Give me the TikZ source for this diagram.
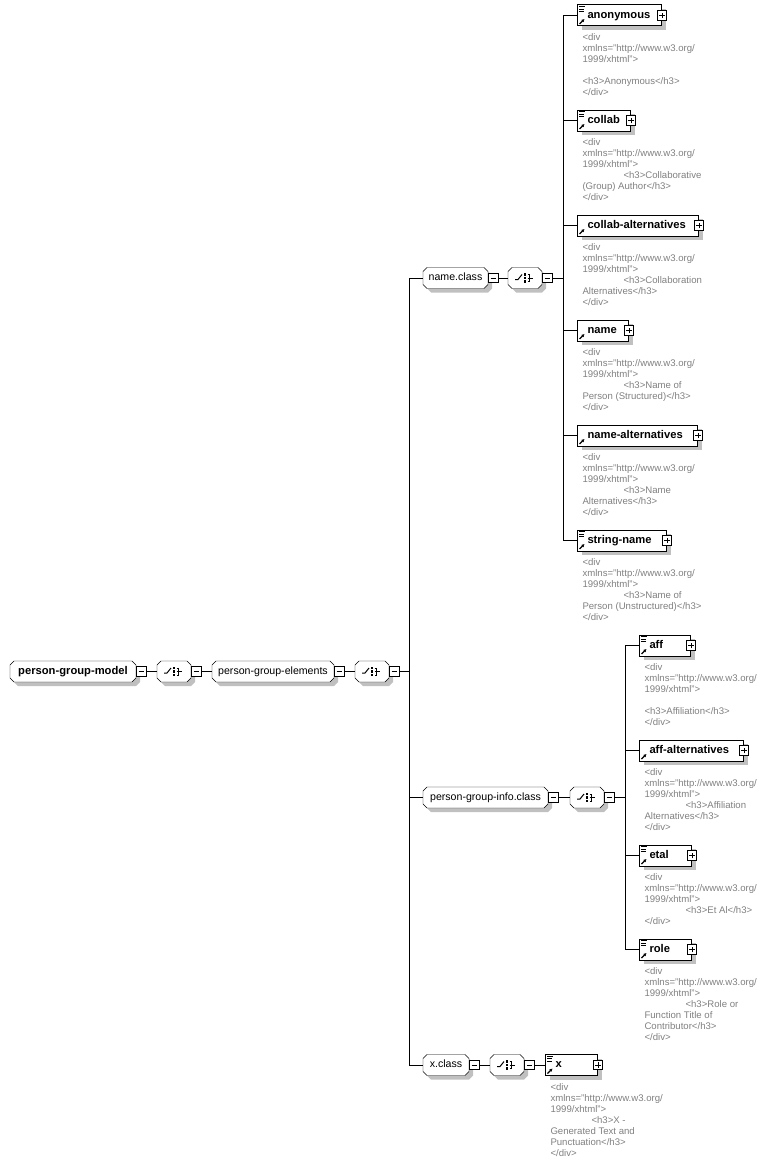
\documentclass[tikz,border=0pt]{standalone}
\usepackage{fontspec}
\setmainfont{Liberation Sans}
\usetikzlibrary{shadows,arrows.meta,backgrounds}

\definecolor{docgray}{RGB}{128,128,128}
\definecolor{shadegray}{RGB}{192,192,192}

\newcommand\lblfont{\fontsize{10.6}{12}\selectfont}
\newcommand\elemfont{\fontsize{11.2}{13}\selectfont\bfseries}
\newcommand\docfont{\fontsize{9.6}{11}\selectfont}
\newcommand\xdiv{<div\\xmlns="http://www.w3.org/\\1999/xhtml">}
\newcommand\hthree{\hspace*{41pt}}

\tikzset{
  sombra/.style={drop shadow={shadow xshift=4pt,shadow yshift=-4pt,fill=shadegray,opacity=1}},
  elem/.style={draw,fill=white,anchor=west,minimum height=21pt,inner xsep=10pt,inner ysep=0pt,
    font=\elemfont,text height=8pt,text depth=2.5pt,sombra},
  grp/.style={rectangle,anchor=west,minimum height=20pt,inner sep=0pt,
    font=\lblfont,text height=8pt,text depth=2.5pt},
  seqbox/.style={grp,minimum width=33pt},
  chamf/.style={fill=white,sombra},
  mbox/.style={draw,fill=white,line width=1.2pt,minimum size=9.5pt,inner sep=0pt,anchor=west,
    path picture={\draw[line width=1pt] ([xshift=2pt]path picture bounding box.west)
      -- ([xshift=-2pt]path picture bounding box.east);}},
  pbox/.style={mbox,anchor=center,path picture={
    \draw[line width=1pt] ([xshift=2pt]path picture bounding box.west)
      -- ([xshift=-2pt]path picture bounding box.east)
      ([yshift=2pt]path picture bounding box.south) -- ([yshift=-2pt]path picture bounding box.north);}},
  doc/.style={text=docgray,font=\docfont,align=left,anchor=north west,inner sep=0pt},
}

\begin{document}
\begin{tikzpicture}[x=1pt,y=-1pt,line width=1pt]
    \useasboundingbox (0,0) rectangle (772,1164);

    %Raiz
    \node[grp,font=\elemfont,minimum width=125pt] (pgm) at (10,671.5) {person-group-model};
    \node[mbox] (pgmm) at (pgm.east) {};
    \node[seqbox] (seqa) at (157,671.5) {};
    \node[mbox] (seqam) at (seqa.east) {};
    \node[grp,minimum width=121pt] (pge) at (212,671.5) {person-group-elements};
    \node[mbox] (pgem) at (pge.east) {};
    \node[seqbox] (seqb) at (355,671.5) {};
    \node[mbox] (seqbm) at (seqb.east) {};
    \coordinate (forka) at (409,671.5);

    %Grupos
    \node[grp,minimum width=64pt] (ncls) at (423,278) {name.class};
    \node[mbox] (nclsm) at (ncls.east) {};
    \node[seqbox] (seqc) at (508,278) {};
    \node[mbox] (seqcm) at (seqc.east) {};
    \coordinate (forkb) at (563,278);

    \node[grp,minimum width=124pt] (pgic) at (423,797.5) {person-group-info.class};
    \node[mbox] (pgicm) at (pgic.east) {};
    \node[seqbox] (seqd) at (570,797.5) {};
    \node[mbox] (seqdm) at (seqd.east) {};
    \coordinate (forkc) at (625,797.5);

    \node[grp,minimum width=45pt] (xcls) at (423,1065) {x.class};
    \node[mbox] (xclsm) at (xcls.east) {};
    \node[seqbox] (seqe) at (490,1065) {};
    \node[mbox] (seqem) at (seqe.east) {};

    %Contornos
    \begin{scope}[on background layer]
    \foreach \g in {pgm,seqa,pge,seqb,ncls,seqc,pgic,seqd,xcls,seqe}{
        \draw[chamf] ([xshift=4pt]\g.north west) -- ([xshift=-4pt]\g.north east)
            -- ([yshift=-4pt]\g.north east) -- ([yshift=4pt]\g.south east)
            -- ([xshift=-4pt]\g.south east) -- ([xshift=4pt]\g.south west)
            -- ([yshift=4pt]\g.south west) -- ([yshift=-4pt]\g.north west) -- cycle;
    }
    \end{scope}

    %Secuencias
    \foreach \s in {seqa,seqb,seqc,seqd,seqe}{
        \draw ([shift={(-10pt,-1.5pt)}]\s.center) -- ++(3pt,0pt) -- ++(4pt,5pt);
        \foreach \dd in {3.5,0,-3.5}{
            \fill ([shift={(-1.2pt,\dd pt-1.2pt)}]\s.center) rectangle ++(2.4pt,2.4pt);
        }
        \draw ([shift={(2.5pt,3.5pt)}]\s.center) -- ++(2pt,0pt) -- ++(0pt,-7pt) -- ++(-2pt,0pt)
            ([shift={(2.5pt,0pt)}]\s.center) -- ++(5pt,0pt);
    }

    %Elementos
    \foreach \nm/\xx/\yy/\ww/\doc [evaluate={\tw=\ww-20;}] in {
        anonymous/577/15.5/84/1, collab/577/120.5/53/1, collab-alternatives/577/225.5/121/0,
        name/577/330.5/51/0, name-alternatives/577/435.5/120/0, string-name/577/540.5/89/1,
        aff/639/645.5/51/1, aff-alternatives/639/750.5/104/0, etal/639/855.5/52/1,
        role/639/949.5/52/1, x/545/1065/52/1}{
        \node[elem] (\nm) at (\xx,\yy) {\makebox[\tw pt][l]{\nm}};
        \node[pbox] (\nm-p) at (\nm.east) {};
        \ifnum\doc=1
            \draw[line width=0.9pt] ([xshift=2pt,yshift=-2pt]\nm.north west) -- ++(6pt,0pt)
                ([xshift=2pt,yshift=-4.5pt]\nm.north west) -- ++(5pt,0pt)
                ([xshift=2pt,yshift=-7pt]\nm.north west) -- ++(5pt,0pt);
        \fi
        \draw[line width=1.2pt,-{Latex[length=3pt,width=3.5pt]}] ([xshift=2.5pt,yshift=2.5pt]\nm.south west) -- ++(5pt,5pt);
    }

    %Documentacion
    \node[doc] (anonymous-doc) at ([xshift=5pt,yshift=-7pt]anonymous.south west) {\xdiv\\[11pt]<h3>Anonymous</h3>\\</div>};
    \node[doc] (collab-doc) at ([xshift=5pt,yshift=-7pt]collab.south west) {\xdiv\\\hthree<h3>Collaborative\\(Group) Author</h3>\\</div>};
    \node[doc] (collab-alternatives-doc) at ([xshift=5pt,yshift=-7pt]collab-alternatives.south west) {\xdiv\\\hthree<h3>Collaboration\\Alternatives</h3>\\</div>};
    \node[doc] (name-doc) at ([xshift=5pt,yshift=-7pt]name.south west) {\xdiv\\\hthree<h3>Name of\\Person (Structured)</h3>\\</div>};
    \node[doc] (name-alternatives-doc) at ([xshift=5pt,yshift=-7pt]name-alternatives.south west) {\xdiv\\\hthree<h3>Name\\Alternatives</h3>\\</div>};
    \node[doc] (string-name-doc) at ([xshift=5pt,yshift=-7pt]string-name.south west) {\xdiv\\\hthree<h3>Name of\\Person (Unstructured)</h3>\\</div>};
    \node[doc] (aff-doc) at ([xshift=5pt,yshift=-7pt]aff.south west) {\xdiv\\[11pt]<h3>Affiliation</h3>\\</div>};
    \node[doc] (aff-alternatives-doc) at ([xshift=5pt,yshift=-7pt]aff-alternatives.south west) {\xdiv\\\hthree<h3>Affiliation\\Alternatives</h3>\\</div>};
    \node[doc] (etal-doc) at ([xshift=5pt,yshift=-7pt]etal.south west) {\xdiv\\\hthree<h3>Et Al</h3>\\</div>};
    \node[doc] (role-doc) at ([xshift=5pt,yshift=-7pt]role.south west) {\xdiv\\\hthree<h3>Role or\\Function Title of\\Contributor</h3>\\</div>};
    \node[doc] (x-doc) at ([xshift=5pt,yshift=-7pt]x.south west) {\xdiv\\\hthree<h3>X -\\Generated Text and\\Punctuation</h3>\\</div>};

    %Conectores
    \draw (pgmm) -- (seqa);
    \draw (seqam) -- (pge);
    \draw (pgem) -- (seqb);
    \draw (seqbm) -- (forka);
    \foreach \t in {ncls,pgic,xcls}{
        \draw (forka) |- (\t);
    }
    \draw (nclsm) -- (seqc);
    \draw (seqcm) -- (forkb);
    \foreach \t in {anonymous,collab,collab-alternatives,name,name-alternatives,string-name}{
        \draw (forkb) |- (\t);
    }
    \draw (pgicm) -- (seqd);
    \draw (seqdm) -- (forkc);
    \foreach \t in {aff,aff-alternatives,etal,role}{
        \draw (forkc) |- (\t);
    }
    \draw (xclsm) -- (seqe);
    \draw (seqem) -- (x);

\end{tikzpicture}
\end{document}
